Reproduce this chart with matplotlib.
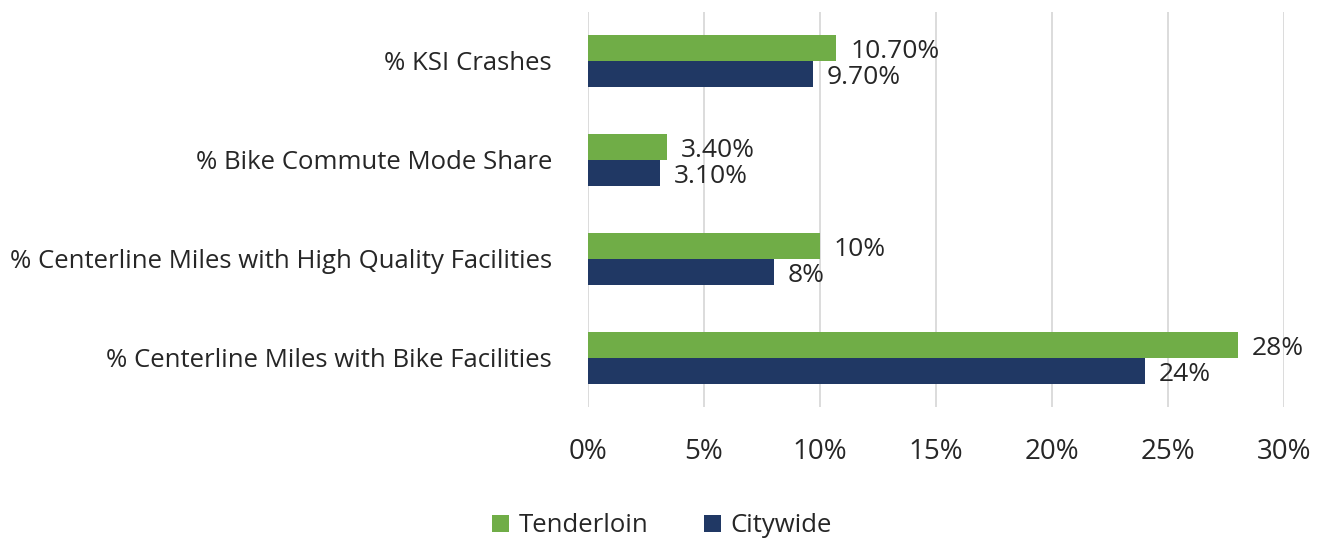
import matplotlib.pyplot as plt
import numpy as np

plt.rcParams["font.family"] = ["Open Sans", "DejaVu Sans"]

categories = [
    "% KSI Crashes",
    "% Bike Commute Mode Share",
    "% Centerline Miles with High Quality Facilities",
    "% Centerline Miles with Bike Facilities",
]
tenderloin = [10.7, 3.4, 10.0, 28.0]
citywide = [9.7, 3.1, 8.0, 24.0]
tenderloin_labels = ["10.70%", "3.40%", "10%", "28%"]
citywide_labels = ["9.70%", "3.10%", "8%", "24%"]

green = "#70AD47"
navy = "#203864"
text_color = "#262626"

fig = plt.figure(figsize=(13.24, 5.4), dpi=100)
ax = fig.add_axes([0.4441, 0.2454, 0.5257, 0.7333])

y = np.arange(len(categories))
h = 0.26
b1 = ax.barh(y - h / 2, tenderloin, height=h, color=green, label="Tenderloin", zorder=3)
b2 = ax.barh(y + h / 2, citywide, height=h, color=navy, label="Citywide", zorder=3)

for bars, labels in ((b1, tenderloin_labels), (b2, citywide_labels)):
    for bar, lab in zip(bars, labels):
        ax.annotate(lab, (bar.get_width(), bar.get_y() + bar.get_height() / 2),
                    xytext=(10, -2.5), textcoords="offset points",
                    va="center", ha="left", fontsize=19, color=text_color)

ax.set_ylim(len(categories) - 0.5, -0.5)
ax.set_xlim(0, 30)
ax.set_xticks(np.arange(0, 31, 5))
ax.set_xticklabels([f"{v}%" for v in range(0, 31, 5)])
ax.set_yticks(y)
ax.set_yticklabels(categories, fontsize=18.5)
ax.tick_params(axis="both", length=0, colors=text_color)
ax.tick_params(axis="x", pad=22, labelsize=20)
ax.tick_params(axis="y", pad=26)
ax.grid(axis="x", color="#D9D9D9", linewidth=1.3, zorder=0)
for s in ax.spines.values():
    s.set_visible(False)

fig.legend(handles=[b1, b2], loc="lower center", bbox_to_anchor=(0.5, -0.04), ncol=2,
           frameon=False, fontsize=18.5, handlelength=0.65, handleheight=0.65,
           columnspacing=2.15, handletextpad=0.4, labelcolor=text_color)

fig.savefig("out.png", dpi=100)
